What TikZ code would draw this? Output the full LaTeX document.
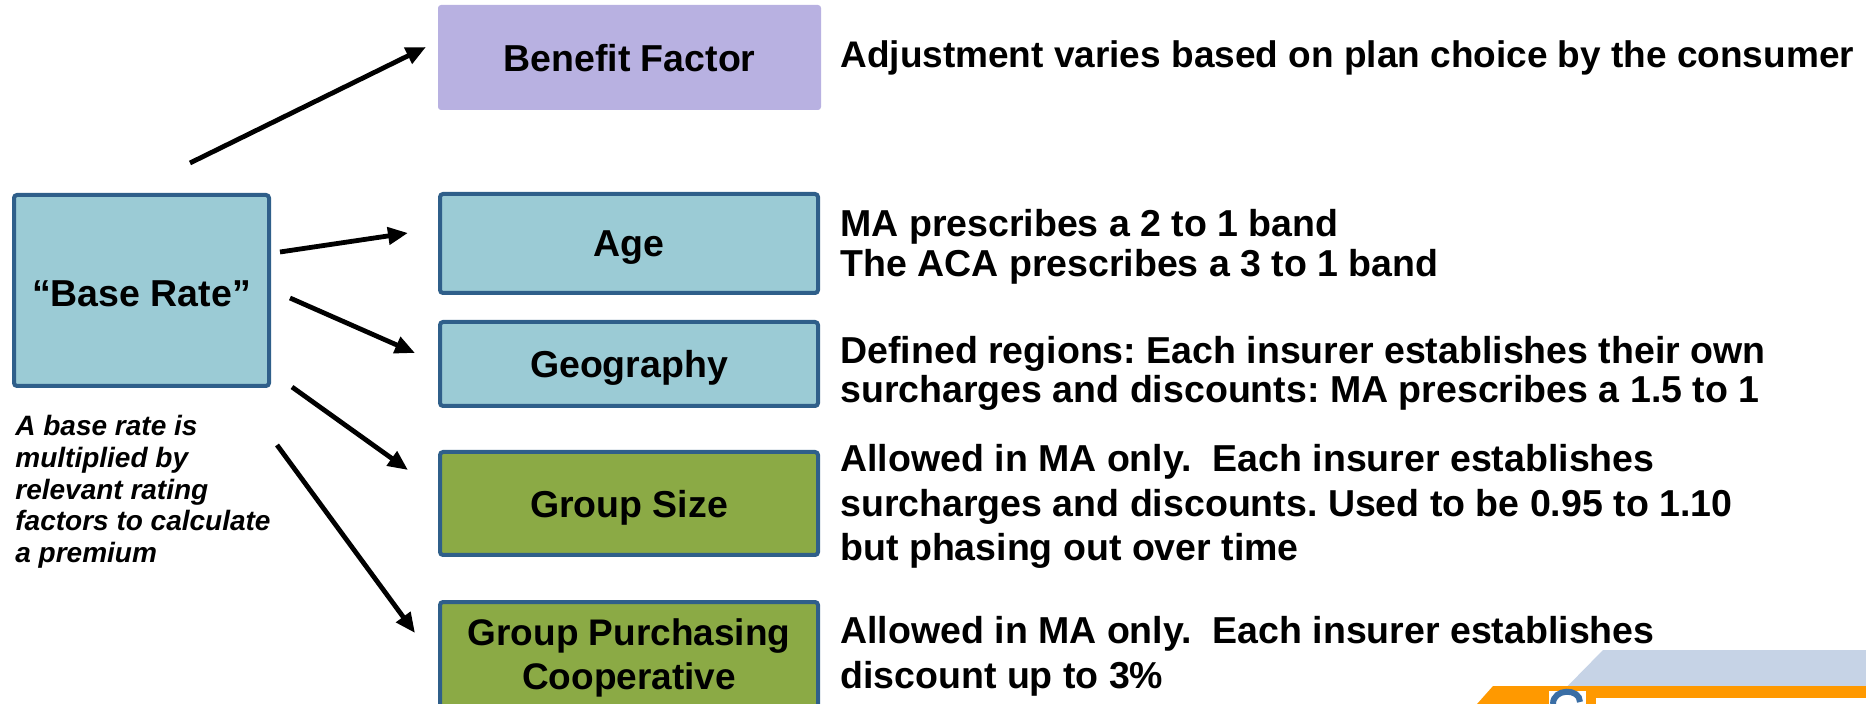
\documentclass[tikz,border=0pt]{standalone}
\usepackage{fontspec}
\setmainfont{Liberation Sans}
\usetikzlibrary{arrows.meta,positioning}
\definecolor{rtteal}{RGB}{155,203,213}
\definecolor{rtedge}{RGB}{47,95,138}
\definecolor{rtgreen}{RGB}{139,170,69}
\definecolor{rtlilac}{RGB}{184,177,225}
\definecolor{rtsky}{RGB}{198,211,230}
\definecolor{rtorange}{RGB}{255,153,0}
\definecolor{rtlogo}{RGB}{58,110,165}
\frenchspacing

\begin{document}
\begin{tikzpicture}[x=0.5pt,y=-0.5pt,
      every node/.style={font=\fontsize{18.75}{21.75}\selectfont\bfseries},
      box/.style={draw=rtedge,line width=2pt,rounded corners=1.5pt,minimum width=189pt,align=center,inner sep=0pt,text depth=0pt},
      note/.style={anchor=base west,align=left,inner sep=0pt},
      arr/.style={-{Triangle[length=10pt,width=8.5pt]},line width=2.4pt}]
    \useasboundingbox (0,0) rectangle (1866,704);
    % Base rate and its note (notes sit on their last baseline)
    \node[box,fill=rtteal,minimum width=127.5pt,minimum height=95.5pt,text height=16pt] (base) at (141.5,290.5) {“Base Rate”};
    \node[note,font=\fontsize{14}{15.75}\selectfont\bfseries\itshape] (baseNote) at (15,562)
         {A base rate is\\multiplied by\\relevant rating\\factors to calculate\\a premium};
    % Rating factors
    \node[box,draw=none,fill=rtlilac,minimum width=191.5pt,minimum height=52.5pt] (benefit) at (629.5,57.5) {Benefit Factor};
    \node[box,fill=rtteal,minimum height=49.5pt] (age) at (629,243.5) {Age};
    \node[box,fill=rtteal,minimum height=42pt] (geo) at (629,364) {Geography};
    \node[box,fill=rtgreen,minimum height=51.5pt] (gsize) at (629,503.5) {Group Size};
    \node[box,fill=rtgreen,minimum height=54pt,text depth=2pt,font=\fontsize{18.5}{21.75}\selectfont\bfseries] (coop) at (629,656) {Group Purchasing\\Cooperative};
    % Descriptions
    \node[note,font=\fontsize{18.5}{21.75}\selectfont\bfseries] (benefitTxt) at (840,68) {Adjustment varies based on plan choice by the consumer};
    \node[note,font=\fontsize{18.75}{20.25}\selectfont\bfseries] (ageTxt) at (840,277) {MA prescribes a 2 to 1 band\\The ACA prescribes a 3 to 1 band};
    \node[note,font=\fontsize{18.75}{19.5}\selectfont\bfseries] (geoTxt) at (840,403) {Defined regions: Each insurer establishes their own\\surcharges and discounts: MA prescribes a 1.5 to 1};
    \node[note,font=\fontsize{18.75}{22}\selectfont\bfseries] (gsizeTxt) at (840,560) {Allowed in MA only.\ \ Each insurer establishes\\surcharges and discounts. Used to be 0.95 to 1.10\\but phasing out over time};
    \node[note,font=\fontsize{18.75}{22.5}\selectfont\bfseries] (coopTxt) at (840,688) {Allowed in MA only.\ \ Each insurer establishes\\discount up to 3\%};
    % Arrow ends
    \coordinate (bfTail) at (190,163);   \coordinate (bfTip) at (426,47);
    \coordinate (ageTail) at (280,252);  \coordinate (ageTip) at (408,233);
    \coordinate (geoTail) at (290,298);  \coordinate (geoTip) at (415,353);
    \coordinate (gsTail) at (292,387);   \coordinate (gsTip) at (408,470);
    \coordinate (coopTail) at (277,445); \coordinate (coopTip) at (415,633);
    \draw[arr] (bfTail)--(bfTip);
    \draw[arr] (ageTail)--(ageTip);
    \draw[arr] (geoTail)--(geoTip);
    \draw[arr] (gsTail)--(gsTip);
    \draw[arr] (coopTail)--(coopTip);
    % Corner logo
    \fill[rtsky] (1603,650)--(1866,650)--(1866,704)--(1550,704)--cycle;
    \fill[rtorange] (1493,686)--(1866,686)--(1866,704)--(1477,704)--cycle;
    \fill[white] (1549,691) rectangle (1586,704);
    \fill[white] (1596,698) rectangle (1866,704);
    \draw[rtlogo,line width=3pt] (1553,704) .. controls (1553,688) and (1580,688) .. (1580,702);
  \end{tikzpicture}
\end{document}
